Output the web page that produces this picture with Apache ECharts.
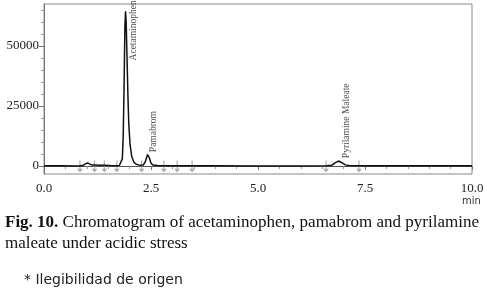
<!DOCTYPE html>
<html>
<head>
<meta charset="utf-8">
<script src="https://cdn.jsdelivr.net/npm/echarts@6/dist/echarts.min.js"></script>
<style>
  html, body { margin: 0; padding: 0; background: #fff; }
  #chart { width: 487px; height: 302px; }
</style>
</head>
<body>
<div id="chart"></div>
<script>
// chromatogram trace (time in min, detector response)
const times = [0.00, 0.40, 0.80, 0.90, 0.97, 1.02, 1.07, 1.12, 1.20, 1.30, 1.40, 1.55, 1.70, 1.76,
  1.80, 1.83, 1.85, 1.87, 1.89, 1.905, 1.92, 1.94, 1.96, 1.98, 2.01, 2.05, 2.10, 2.16, 2.25,
  2.32, 2.37, 2.42, 2.46, 2.50, 2.55, 2.65, 3.00, 4.00, 5.00, 6.00, 6.60, 6.72, 6.80, 6.88,
  6.96, 7.04, 7.12, 7.50, 8.50, 10.00]
const response = [150, 120, 80, 200, 900, 1300, 800, 400, 450, 350, 300, 200, 150, 250,
  400, 3000, 12000, 32000, 58000, 64500, 60000, 45000, 30000, 18000, 9000, 4000, 1600, 700, 300,
  400, 2000, 4800, 3500, 1200, 400, 200, 150, 100, 80, 80, 100, 300, 1300, 2100,
  1400, 500, 200, 120, 150, 150]

// integration markers
const markerTimes = [0.84, 1.18, 1.41, 1.70, 2.28, 2.80, 3.11, 3.46, 6.59, 7.36]

// peak names and where their labels sit
const peakNames = ['Acetaminophen', 'Pamabrom', 'Pyrilamine Maleate']
const peakLabelTimes = [2.08, 2.55, 7.06]
const peakLabelBase = [44000, 5800, 3300]

const yLabelValues = [0, 25000, 50000]
const yMinorValues = [5000, 10000, 15000, 20000, 30000, 35000, 40000, 45000, 55000, 60000, 65000]

const chart = echarts.init(document.getElementById('chart'))

const serif = '"Liberation Serif", "DejaVu Serif", serif'

const option = {
  animation: false,
  grid: {
    left: 44, right: 15, top: 4, bottom: 128,
    show: true, borderColor: '#8a8a8a', borderWidth: 1
  },
  xAxis: {
    type: 'value',
    min: 0, max: 10, interval: 2.5,
    axisLine: { lineStyle: { color: '#555' } },
    axisTick: { length: 4, lineStyle: { color: '#777' } },
    minorTick: { show: true, splitNumber: 5, length: 3, lineStyle: { color: '#999' } },
    splitLine: { show: false },
    axisLabel: {
      margin: 8, color: '#222', fontFamily: serif, fontSize: 13,
      formatter: (v) => v.toFixed(1)
    }
  },
  yAxis: [
    {
      type: 'value',
      min: -3300, max: 67500,
      axisLine: { show: true, lineStyle: { color: '#777' } },
      axisTick: { show: true, length: 5, customValues: yLabelValues, lineStyle: { color: '#777' } },
      splitLine: { show: false },
      axisLabel: {
        margin: 5, color: '#222', fontFamily: serif, fontSize: 13,
        customValues: yLabelValues,
        formatter: (v) => String(v)
      }
    },
    {
      type: 'value',
      position: 'left',
      min: -3300, max: 67500,
      axisLine: { show: false },
      axisTick: { show: true, length: 3, customValues: yMinorValues, lineStyle: { color: '#999' } },
      axisLabel: { show: false },
      splitLine: { show: false }
    }
  ],
  series: [
    {
      type: 'line',
      data: times.map((t, i) => [t, response[i]]),
      showSymbol: false,
      lineStyle: { color: '#111', width: 1.5 },
      z: 3
    },
    {
      type: 'scatter',
      data: markerTimes.map((t) => [t, -150]),
      symbol: 'path://M0.8,0 L1.2,0 L1.2,7 L2,7 L1,10 L0,7 L0.8,7 Z',
      symbolSize: [6, 12],
      itemStyle: { color: '#999' },
      z: 2
    },
    {
      type: 'scatter',
      data: peakNames.map((n, i) => ({ name: n, value: [peakLabelTimes[i], peakLabelBase[i]] })),
      symbolSize: 0,
      label: {
        show: true,
        formatter: '{b}',
        rotate: 90,
        position: [0, 0],
        align: 'left',
        verticalAlign: 'middle',
        fontFamily: serif,
        fontSize: 9.5,
        color: '#222'
      }
    }
  ],
  graphic: [
    {
      type: 'text', left: 462, top: 196,
      style: { text: 'min', fontFamily: '"DejaVu Sans", sans-serif', fontSize: 10, fill: '#333' }
    },
    {
      type: 'text', left: 5, top: 212,
      style: {
        text: '{b|Fig. 10.} Chromatogram of acetaminophen, pamabrom and pyrilamine\nmaleate under acidic stress',
        fontFamily: serif, fontSize: 17, lineHeight: 21, fill: '#111',
        rich: { b: { fontWeight: 'bold', fontFamily: serif, fontSize: 17, fill: '#111' } }
      }
    },
    {
      type: 'text', left: 24, top: 273,
      style: { text: '* Ilegibilidad de origen', fontFamily: '"DejaVu Sans", sans-serif', fontSize: 14, fill: '#222' }
    }
  ]
}

chart.setOption(option)
</script>
</body>
</html>
